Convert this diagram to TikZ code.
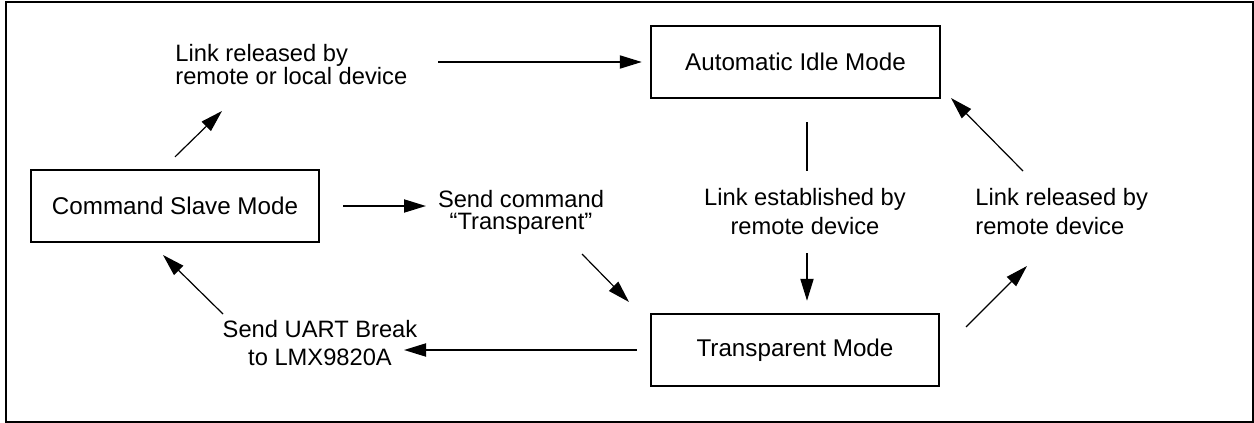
\documentclass[tikz,border=0pt]{standalone}
\usepackage{fontspec}
\setmainfont{Liberation Sans}
\usetikzlibrary{arrows.meta}
\begin{document}
\begin{tikzpicture}[x=0.5pt,y=-0.5pt,
  lblA/.style={font=\fontsize{11.85}{11.5}\selectfont, inner sep=0pt},
  lblB/.style={font=\fontsize{11.85}{14.25}\selectfont, inner sep=0pt},
  modebox/.style={draw, line width=1.15pt, minimum width=144pt, minimum height=36pt,
    inner sep=0pt, font=\fontsize{12.1}{14}\selectfont},
  harr/.style={line width=0.95pt, -{Triangle[length=11pt,width=6.5pt]}},
  darr/.style={line width=0.6pt, -{Triangle[length=11pt,width=6.5pt]}},
  plain/.style={line width=0.85pt}]
\useasboundingbox (0,0) rectangle (1254,423);
% outer frame
\draw[line width=1.35pt] (6,2) rectangle (1253,422);

% operating modes
\node[modebox] (csm) at (175,206) {Command Slave Mode};
\node[modebox, minimum width=144.5pt] (aim) at (795.5,62) {Automatic Idle Mode};
\node[modebox] (tm) at (795,350) {Transparent Mode};

% transition labels (placed by the baseline of their last line)
\node[lblA, anchor=base west, align=left] (relLocal) at (175,84)
  {Link released by\\remote or local device};
\node[lblA, font=\fontsize{11.85}{11}\selectfont, anchor=base, align=center] (sendCmd) at (521,229)
  {Send command\\“Transparent”};
\node[lblB, anchor=base, align=center] (estab) at (805,234)
  {Link established by\\remote device};
\node[lblB, anchor=base west, align=left] (relRemote) at (975,234)
  {Link released by\\remote device};
\node[lblB, font=\fontsize{11.85}{14}\selectfont, anchor=base, align=center] (uart) at (320,365)
  {Send UART Break\\to LMX9820A};

% free ends of the connectors
\coordinate (relLocalIn) at (222,111);
\coordinate (relLocalOut) at (438,62);
\coordinate (sendCmdIn) at (426,206);
\coordinate (sendCmdOut) at (582,254);
\coordinate (sendCmdTip) at (629,302);
\coordinate (estabTop) at (807,122);
\coordinate (estabIn) at (807,171);
\coordinate (estabOut) at (807,253);
\coordinate (relRemoteTail) at (966,327);
\coordinate (relRemoteIn) at (1027,266);
\coordinate (relRemoteOut) at (1023,171);
\coordinate (aimCorner) at (951,98);
\coordinate (uartIn) at (404,350);
\coordinate (uartOut) at (223,314);
\coordinate (csmBelow) at (163,255);

% transitions
\draw[darr] ([yshift=6pt]csm.north) -- (relLocalIn);
\draw[harr, shorten >=4pt] (relLocalOut) -- (aim.west);
\draw[harr, shorten <=11.5pt] (csm.east) -- (sendCmdIn);
\draw[darr] (sendCmdOut) -- (sendCmdTip);
\draw[plain] (estabTop) -- (estabIn);
\draw[harr, shorten >=6pt] (estabOut) -- (estabOut |- tm.north);
\draw[darr] (relRemoteTail) -- (relRemoteIn);
\draw[darr] (relRemoteOut) -- (aimCorner);
\draw[harr, shorten <=6.5pt] (tm.west) -- (uartIn);
\draw[darr] (uartOut) -- (csmBelow);
\end{tikzpicture}
\end{document}
